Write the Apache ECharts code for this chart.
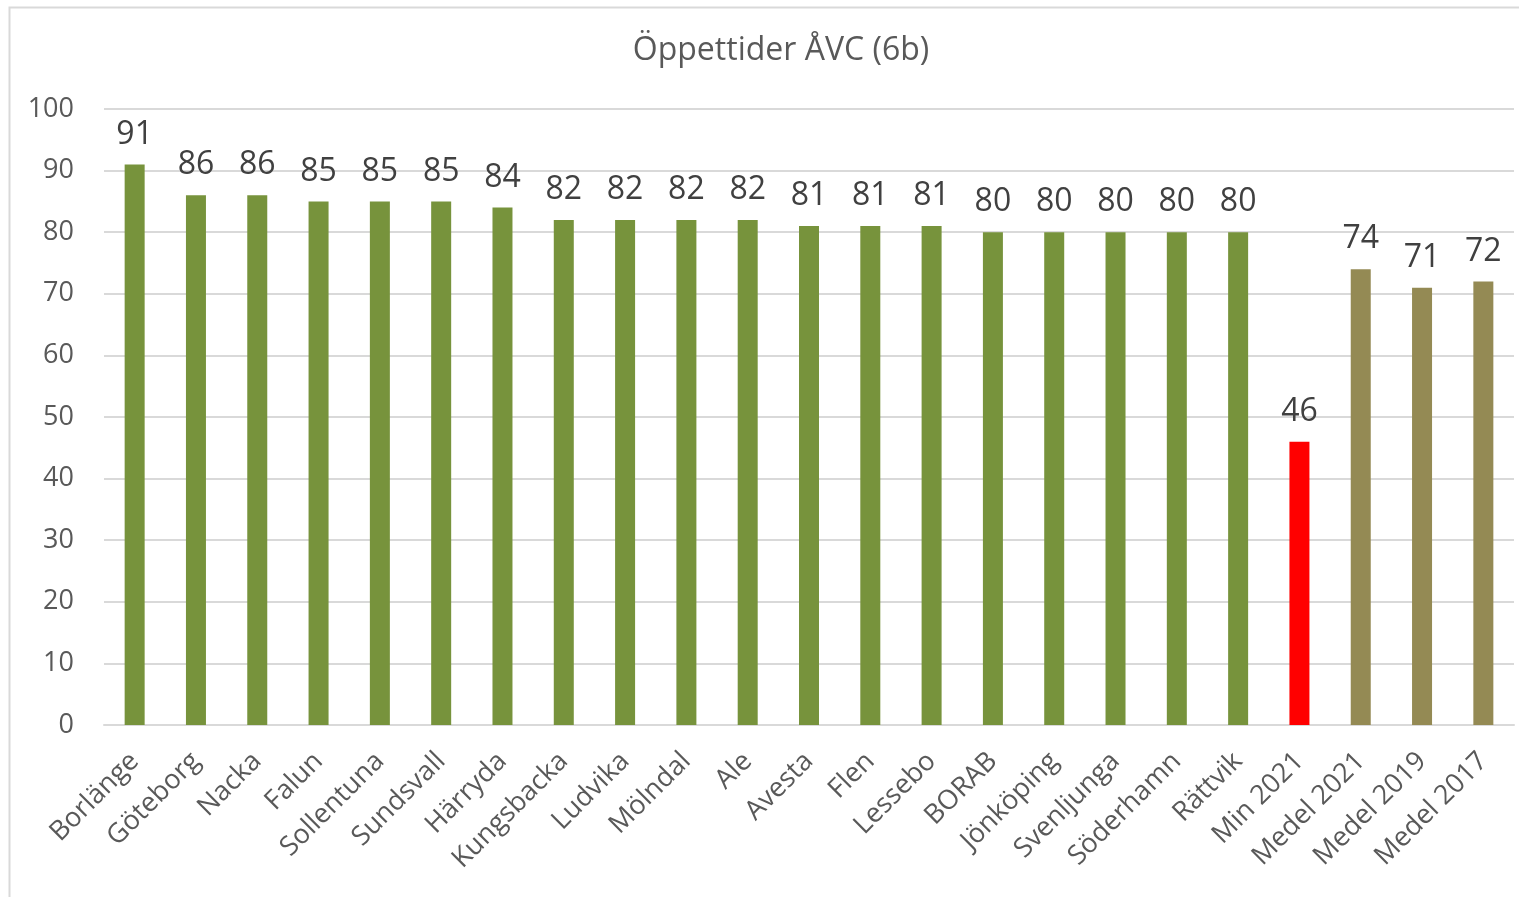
<!DOCTYPE html>
<html>
<head>
<meta charset="utf-8">
<title>Öppettider ÅVC (6b)</title>
<script src="https://cdn.jsdelivr.net/npm/echarts@6/dist/echarts.min.js"></script>
<style>
  html, body { margin: 0; padding: 0; background: #fff; }
  #chart { width: 1519px; height: 897px; }
</style>
</head>
<body>
<div id="chart"></div>
<script>
  'use strict';

  var kommuner = ['Borlänge', 'Göteborg', 'Nacka', 'Falun', 'Sollentuna', 'Sundsvall', 'Härryda',
    'Kungsbacka', 'Ludvika', 'Mölndal', 'Ale', 'Avesta', 'Flen', 'Lessebo', 'BORAB', 'Jönköping',
    'Svenljunga', 'Söderhamn', 'Rättvik', 'Min 2021', 'Medel 2021', 'Medel 2019', 'Medel 2017'];
  var oppettider = [91, 86, 86, 85, 85, 85, 84, 82, 82, 82, 82, 81, 81, 81, 80, 80, 80, 80, 80, 46, 74, 71, 72];
  var yTicks = [0, 10, 20, 30, 40, 50, 60, 70, 80, 90, 100];

  var textFarg = '#595959';
  var font = '"Open Sans", "Noto Sans", sans-serif';

  function stapelFarg(namn) {
    if (namn.indexOf('Min') === 0) return '#FF0000';
    if (namn.indexOf('Medel') === 0) return '#948A54';
    return '#77933C';
  }

  var myChart = echarts.init(document.getElementById('chart'));

  var option = {
    animation: false,
    textStyle: { fontFamily: font },
    title: {
      text: 'Öppettider ÅVC (6b)',
      left: 776,
      textAlign: 'center',
      top: 30,
      textStyle: { color: textFarg, fontSize: 32, fontWeight: 'normal', fontFamily: font }
    },
    graphic: [{
      type: 'rect',
      shape: { x: 9.5, y: 7.5, width: 1600, height: 1600 },
      style: { fill: 'none', stroke: '#d9d9d9', lineWidth: 2 },
      silent: true
    }],
    grid: {
      left: 104,
      right: 5,
      top: 109,
      bottom: 172
    },
    xAxis: {
      type: 'category',
      data: kommuner,
      axisTick: { show: false },
      axisLine: { lineStyle: { color: '#d9d9d9', width: 2 } },
      axisLabel: {
        interval: 0,
        rotate: 45,
        margin: 32,
        color: textFarg,
        fontSize: 27,
        fontFamily: font
      }
    },
    yAxis: {
      type: 'value',
      min: yTicks[0],
      max: yTicks[yTicks.length - 1],
      interval: 10,
      axisLine: { show: false },
      axisTick: { show: false },
      splitLine: { lineStyle: { color: '#d9d9d9', width: 2 } },
      axisLabel: {
        margin: 30,
        color: textFarg,
        fontSize: 27,
        fontFamily: font
      }
    },
    series: [{
      type: 'bar',
      barWidth: 20,
      data: oppettider.map(function(v, i) {
        return { value: v, itemStyle: { color: stapelFarg(kommuner[i]) } };
      }),
      label: {
        show: true,
        position: 'top',
        distance: 14,
        color: '#404040',
        fontSize: 32,
        fontFamily: font
      }
    }]
  };

  myChart.setOption(option);
</script>
</body>
</html>
